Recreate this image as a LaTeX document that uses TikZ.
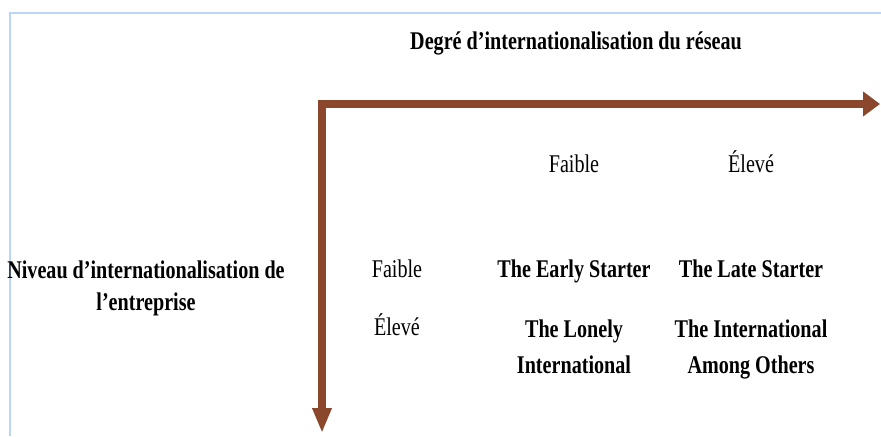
\documentclass[tikz,border=0pt]{standalone}
\usepackage{fontspec}
\setmainfont{Liberation Serif}[FakeStretch=0.79]
\usetikzlibrary{arrows.meta}
\definecolor{brun}{RGB}{139,71,44}
\definecolor{cadre}{RGB}{186,213,246}

\begin{document}
\begin{tikzpicture}[
    titre/.style={font=\fontsize{14.5}{18.5}\selectfont\bfseries, anchor=base},
    niveau/.style={font=\fontsize{14.5}{18.5}\selectfont, anchor=base},
    cas/.style={font=\fontsize{14.5}{20}\selectfont\bfseries, align=center, anchor=base},
    axe/.style={draw=brun, line width=4pt, line join=miter},
  ]
    \useasboundingbox (0,0) rectangle (17.62,8.72);
    \draw[cadre, line width=1.1pt] (0.2,0) -- (0.2,8.46) -- (17.62,8.46);

    \coordinate (o) at (6.44,6.64);
    \coordinate (xfin) at (17.6,6.64);
    \coordinate (yfin) at (6.44,0.06);
    \draw[axe, {Triangle[length=0.5cm,width=0.36cm]}-{Triangle[length=0.34cm,width=0.48cm]}] (yfin) |- (xfin);

    \node[titre] (degre) at (11.52,7.72) {Degré d’internationalisation du réseau};
    \node[niveau] (faibleR) at (11.48,5.26) {Faible};
    \node[niveau] (eleveR) at (15.02,5.26) {Élevé};

    % multi-line nodes: base = last line
    \node[titre, align=center] (niveauE) at (2.92,2.5) {Niveau d’internationalisation de\\l’entreprise};
    \node[niveau] (faibleE) at (7.94,3.16) {Faible};
    \node[niveau] (eleveE) at (7.94,2.0) {Élevé};

    \node[cas] (early) at (11.48,3.16) {The Early Starter};
    \node[cas] (late) at (15.02,3.16) {The Late Starter};
    \node[cas] (lonely) at (11.48,1.26) {The Lonely\\International};
    \node[cas] (among) at (15.02,1.26) {The International\\Among Others};
\end{tikzpicture}
\end{document}
